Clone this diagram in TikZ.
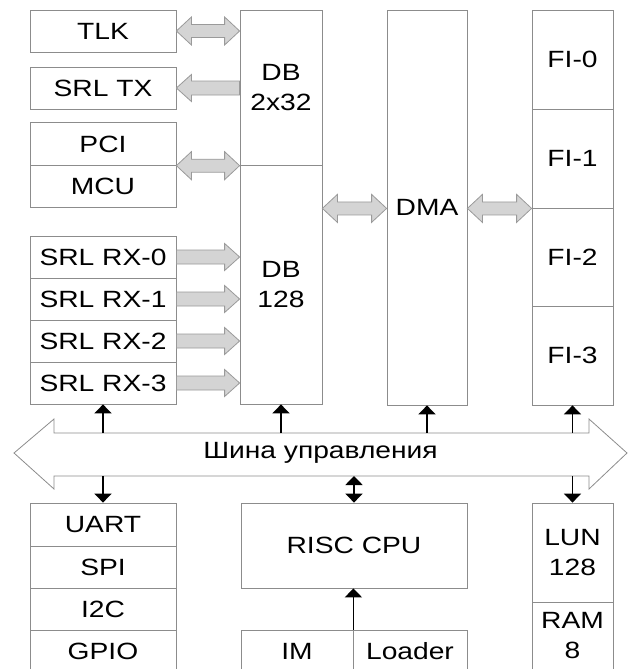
\documentclass[tikz,border=0pt]{standalone}
\usepackage{fontspec}
\setmainfont{Liberation Sans}[FakeStretch=1.2]
\usetikzlibrary{calc,arrows.meta}

\begin{document}
\begin{tikzpicture}[x=1pt, y=-1pt,
  box/.style 2 args={draw=boxline, line width=0.8pt, fill=white, inner sep=0pt,
    align=center, minimum width=#1, minimum height=#2,
    font=\fontsize{23.5}{30}\selectfont},
  fatarrow/.style={fill=arrfill, draw=arrline, line width=0.8pt},
  ctrl/.style={line width=1.8pt, -{Triangle[width=17pt,length=9pt]}},
  ctrlboth/.style={line width=1.8pt, {Triangle[width=17pt,length=9pt]}-{Triangle[width=17pt,length=9pt]}}]

  % --- Farben ---
  \definecolor{boxline}{HTML}{8C8C8C} % Rahmen der Bloecke
  \definecolor{arrfill}{HTML}{D4D4D4} % Blockpfeile, Fuellung
  \definecolor{arrline}{HTML}{9A9A9A} % Blockpfeile, Rand

  % --- Rahmen (629 x 669 px) ---
  \useasboundingbox (0,0) rectangle (629,669);
  \clip (0,0) rectangle (629,669);

  % --- Hilfsmakros: Blockpfeile zwischen zwei Punkten auf gleicher Hoehe ---
  % \dblarrow{links}{rechts}
  \newcommand{\dblarrow}[2]{%
    \filldraw[fatarrow] let \p1=(#1), \p2=(#2) in
      (\x1,\y1) -- (\x1+15pt,\y1+14pt) -- (\x1+15pt,\y1+6.5pt) -- (\x2-15pt,\y1+6.5pt)
      -- (\x2-15pt,\y1+14pt) -- (\x2,\y1) -- (\x2-15pt,\y1-14pt) -- (\x2-15pt,\y1-6.5pt)
      -- (\x1+15pt,\y1-6.5pt) -- (\x1+15pt,\y1-14pt) -- cycle;
  }
  % \leftarrowbox{Spitze}{Ende}
  \newcommand{\leftarrowbox}[2]{%
    \filldraw[fatarrow] let \p1=(#1), \p2=(#2) in
      (\x1,\y1) -- (\x1+15pt,\y1+13.5pt) -- (\x1+15pt,\y1+7pt) -- (\x2,\y1+7pt)
      -- (\x2,\y1-7pt) -- (\x1+15pt,\y1-7pt) -- (\x1+15pt,\y1-13.5pt) -- cycle;
  }
  % \rightarrowbox{Ende}{Spitze}
  \newcommand{\rightarrowbox}[2]{%
    \filldraw[fatarrow] let \p1=(#1), \p2=(#2) in
      (\x1,\y1+7pt) -- (\x2-15pt,\y1+7pt) -- (\x2-15pt,\y1+13.5pt) -- (\x2,\y1)
      -- (\x2-15pt,\y1-13.5pt) -- (\x2-15pt,\y1-7pt) -- (\x1,\y1-7pt) -- cycle;
  }

  % --- Linke Spalte (oben) ---
  \node[box={146}{42}] (tlk)   at (103,31)    {TLK};
  \node[box={146}{42}] (srltx) at (103,88)    {SRL TX};
  \node[box={146}{42.5}] (pci) at (103,144)   {PCI};
  \node[box={146}{42.5}] (mcu) at (103,186.5) {MCU};
  \node[box={146}{42}] (rx0)   at (103,257)   {SRL RX-0};
  \node[box={146}{42}] (rx1)   at (103,299)   {SRL RX-1};
  \node[box={146}{42}] (rx2)   at (103,341)   {SRL RX-2};
  \node[box={146}{42}] (rx3)   at (103,383)   {SRL RX-3};

  % --- Datenpuffer ---
  \node[box={82}{155}] (dbtop) at (281,87.5)  {DB\\2x32};
  \node[box={82}{239}] (dbbot) at (281,284.5) {DB\\128};

  % --- DMA ---
  \node[box={80}{395}] (dma) at (427,207.5) {DMA};

  % --- Rechte Spalte (oben) ---
  \node[box={81}{99}]   (fi0) at (572.5,59.5)  {FI-0};
  \node[box={81}{99}]   (fi1) at (572.5,158.5) {FI-1};
  \node[box={81}{98}]   (fi2) at (572.5,257)   {FI-2};
  \node[box={81}{99}]   (fi3) at (572.5,355.5) {FI-3};

  % --- Untere Bloecke ---
  \node[box={146}{43}] (uart) at (103,524.5) {UART};
  \node[box={146}{42}] (spi)  at (103,567)   {SPI};
  \node[box={146}{42}] (iic)  at (103,609)   {I2C};
  \node[box={146}{42}] (gpio) at (103,651)   {GPIO};
  \node[box={226}{85}] (cpu)    at (354,545.5) {RISC CPU};
  \node[box={112}{42}] (im)     at (297,651)   {IM};
  \node[box={114}{42}] (loader) at (410,651)   {Loader};
  \node[box={81}{99}]  (lun)    at (572.5,552.5) {LUN\\128};
  \node[box={81}{68}]  (ram)    at (572.5,636)   {RAM\\8};

  % --- Blockpfeile ---
  \dblarrow{tlk.east}{tlk.east -| dbtop.west}
  \leftarrowbox{srltx.east}{srltx.east -| dbtop.west}
  \dblarrow{pci.south east}{pci.south east -| dbtop.west}
  \rightarrowbox{rx0.east}{rx0.east -| dbbot.west}
  \rightarrowbox{rx1.east}{rx1.east -| dbbot.west}
  \rightarrowbox{rx2.east}{rx2.east -| dbbot.west}
  \rightarrowbox{rx3.east}{rx3.east -| dbbot.west}
  \dblarrow{dbbot.east |- fi1.south}{dma.west |- fi1.south}
  \dblarrow{dma.east |- fi1.south}{fi1.south west}

  % --- Steuerbus ---
  \filldraw[fill=white, draw=boxline, line width=0.8pt]
    (14,453) -- (54,419) -- (54,433) -- (589,433) -- (589,419) -- (627,453)
    -- (589,489) -- (589,476) -- (54,476) -- (54,489) -- cycle;
  \node[font=\fontsize{23.5}{30}\selectfont] (bus) at (320.5,453) {Шина управления};
  \coordinate (bustop) at (0,433);
  \coordinate (busbot) at (0,476);

  % --- Steuerleitungen ---
  \draw[ctrl] (rx3.south |- bustop)   -- (rx3.south);
  \draw[ctrl] (dbbot.south |- bustop) -- (dbbot.south);
  \draw[ctrl] (dma.south |- bustop)   -- (dma.south);
  \draw[ctrl] (fi3.south |- bustop)   -- (fi3.south);
  \draw[ctrl] (uart.north |- busbot)  -- (uart.north);
  \draw[ctrl] (lun.north |- busbot)   -- (lun.north);
  \draw[ctrlboth] (cpu.north |- busbot) -- (cpu.north);
  \draw[ctrl] (im.north east) -- (im.north east |- cpu.south);

\end{tikzpicture}
\end{document}
